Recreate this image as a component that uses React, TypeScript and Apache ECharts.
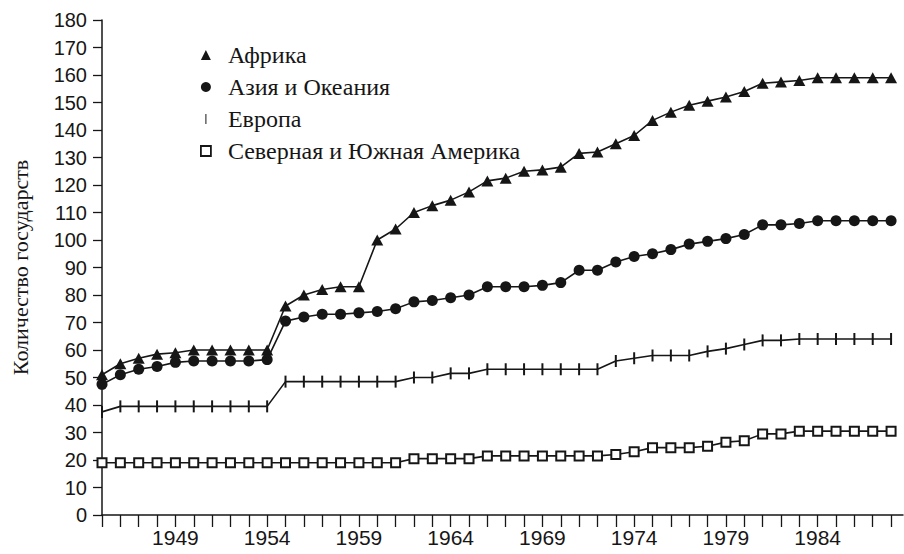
import React, { useEffect, useRef } from "react";
import * as echarts from "echarts";

const years = [
  1945, 1946, 1947, 1948, 1949, 1950, 1951, 1952, 1953, 1954,
  1955, 1956, 1957, 1958, 1959, 1960, 1961, 1962, 1963, 1964,
  1965, 1966, 1967, 1968, 1969, 1970, 1971, 1972, 1973, 1974,
  1975, 1976, 1977, 1978, 1979, 1980, 1981, 1982, 1983, 1984,
  1985, 1986, 1987, 1988,
];
const labelYears = [1949, 1954, 1959, 1964, 1969, 1974, 1979, 1984];

const africa = [
  51, 55, 57, 58.5, 59, 60, 60, 60, 60, 60,
  76, 80, 82, 83, 83,
  100, 104, 110, 112.5, 114.5, 117.5, 121.5, 122.5, 125, 125.5, 126.5,
  131.5, 132, 135, 138, 143.5, 146.5,
  149, 150.5, 152, 154, 157, 157.5, 158, 159, 159, 159, 159, 159,
];
const asia = [
  47.5, 51, 53, 54, 55.5, 56, 56, 56, 56, 56.5,
  70.5, 72, 73, 73, 73.5,
  74, 75, 77.5, 78, 79, 80, 83, 83, 83, 83.5, 84.5,
  89, 89, 92, 94, 95, 96.5,
  98.5, 99.5, 100.5, 102, 105.5, 105.5, 106, 107, 107, 107, 107, 107,
];
const europe = [
  37.5, 39.5, 39.5, 39.5, 39.5, 39.5, 39.5, 39.5, 39.5, 39.5,
  48.5, 48.5, 48.5, 48.5, 48.5, 48.5, 48.5,
  50, 50, 51.5, 51.5,
  53, 53, 53, 53, 53, 53, 53,
  56, 57, 58, 58, 58, 59.5, 60.5, 62, 63.5, 63.5,
  64, 64, 64, 64, 64, 64,
];
const americas = [
  19, 19, 19, 19, 19, 19, 19, 19, 19, 19, 19, 19, 19, 19, 19, 19, 19,
  20.5, 20.5, 20.5, 20.5,
  21.5, 21.5, 21.5, 21.5, 21.5, 21.5, 21.5,
  22, 23, 24.5, 24.5, 24.5, 25, 26.5, 27, 29.5, 29.5,
  30.5, 30.5, 30.5, 30.5, 30.5, 30.5,
];

const seriesNames = ["Африка", "Азия и Океания", "Европа", "Северная и Южная Америка"];
const yAxisTitle = "Количество государств";

const BAR = "path://M0,0h1v10h-1z";

export default function App() {
  const ref = useRef<HTMLDivElement>(null);

  useEffect(() => {
    const chart = echarts.init(ref.current!, null, { renderer: "svg" });
    const black = "#161616";
    const sans = "'Liberation Sans', Arial, sans-serif";
    const serif = "'Liberation Serif', 'Times New Roman', serif";

    const mk = (name: string, data: number[], symbol: string, size: any, itemStyle: any) => ({
      name,
      type: "line",
      data: years.map((y, i) => [y, data[i]]),
      symbol,
      symbolSize: size,
      showAllSymbol: true,
      lineStyle: { color: black, width: 1.6 },
      itemStyle,
      emphasis: { disabled: true },
    });

    chart.setOption({
      animation: false,
      backgroundColor: "#ffffff",
      grid: { left: 102, right: 1, top: 20, bottom: 39 },
      legend: {
        orient: "vertical",
        left: 195,
        top: 38,
        itemGap: 8,
        itemWidth: 10,
        itemHeight: 10,
        selectedMode: false,
        textStyle: { fontFamily: serif, fontSize: 24, color: black, padding: [0, 0, 0, 12] },
        data: [
          { name: seriesNames[0], icon: "triangle", itemStyle: { color: black } },
          { name: seriesNames[1], icon: "circle", itemStyle: { color: black } },
          { name: seriesNames[2], icon: BAR, itemStyle: { color: black } },
          {
            name: seriesNames[3],
            icon: "rect",
            itemStyle: { color: "#ffffff", borderColor: black, borderWidth: 1.8 },
          },
        ],
      },
      xAxis: {
        type: "value",
        min: 1945,
        max: 1988.65,
        axisLine: { show: true, lineStyle: { color: black, width: 1.5 } },
        axisTick: {
          show: true,
          length: 12,
          customValues: years,
          lineStyle: { color: black, width: 1.3 },
        },
        axisLabel: {
          customValues: labelYears,
          formatter: (v: number) => String(v),
          fontFamily: sans,
          fontSize: 21,
          color: black,
          margin: 12,
        },
        splitLine: { show: false },
      },
      yAxis: {
        type: "value",
        min: 0,
        max: 180,
        interval: 10,
        name: yAxisTitle,
        nameLocation: "middle",
        nameRotate: 90,
        nameGap: 71,
        nameTextStyle: { fontFamily: serif, fontSize: 22, color: black },
        axisLine: { show: true, lineStyle: { color: black, width: 1.5 } },
        axisTick: { show: true, length: 9, lineStyle: { color: black, width: 1.3 } },
        axisLabel: { fontFamily: sans, fontSize: 20, color: black, margin: 15 },
        splitLine: { show: false },
      },
      series: [
        mk(seriesNames[0], africa, "triangle", [12, 11], { color: black }),
        mk(seriesNames[1], asia, "circle", 11, { color: black }),
        mk(seriesNames[2], europe, BAR, [2, 12], { color: black }),
        mk(seriesNames[3], americas, "rect", 9, {
          color: "#ffffff",
          borderColor: black,
          borderWidth: 2,
        }),
      ],
    });

    return () => chart.dispose();
  }, []);

  return (
    <div
      ref={ref}
      style={{ position: "absolute", left: 0, top: 0, width: 904, height: 554 }}
    />
  );
}
